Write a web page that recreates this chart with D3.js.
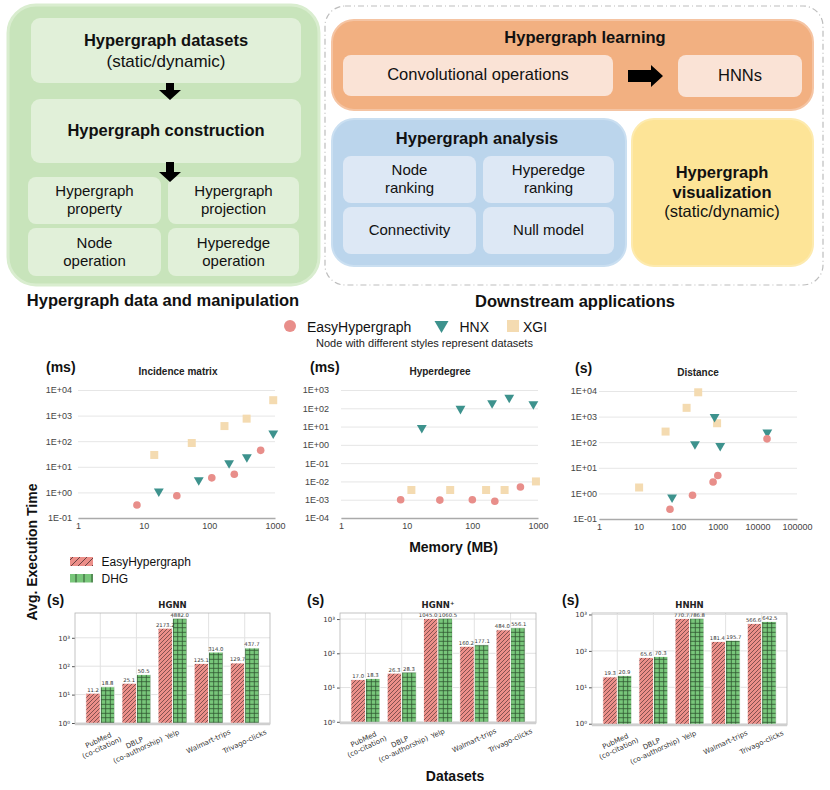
<!DOCTYPE html>
<html>
<head>
<meta charset="utf-8">
<script src="https://cdn.jsdelivr.net/npm/d3@7"></script>
<style>body{margin:0;background:#fff}</style>
</head>
<body>
<script>
// DATA
// scatter points: [memory (MB), execution time]
const incidenceEasy = [[7.9, 0.32], [32, 0.74], [109, 3.7], [240, 5.1], [605, 44]];
const incidenceHnx = [[17, 1.1], [69, 3.0], [200, 14], [373, 24], [940, 204]];
const incidenceXgi = [[14.5, 29], [54, 85], [170, 390], [370, 760], [940, 4000]];
const hyperdegreeEasy = [[8.1, 0.001], [32, 0.00095], [100, 0.001], [220, 0.00082], [540, 0.005]];
const hyperdegreeHnx = [[17, 8.5], [66, 95], [200, 195], [365, 380], [850, 170]];
const hyperdegreeXgi = [[11.8, 0.0034], [46, 0.0034], [162, 0.0034], [310, 0.0034], [930, 0.01]];
const distanceEasy = [[62, 0.24], [230, 0.85], [760, 2.8], [1000, 5], [17500, 135]];
const distanceHnx = [[70, 0.7], [265, 85], [830, 980], [1150, 72], [17800, 240]];
const distanceXgi = [[10.3, 1.7], [48, 260], [163, 2200], [320, 8900], [960, 550]];

const barDatasets = [['PubMed', '(co-citation)'], ['DBLP', '(co-authorship)'], ['Yelp'], ['Walmart-trips'], ['Trivago-clicks']];
const hgnnEasy = [11.2, 25.1, 2173.2, 125.1, 129.7];
const hgnnDhg = [18.8, 50.5, 4882.0, 314.0, 437.7];
const hgnnPlusEasy = [17.0, 26.3, 1045.0, 160.2, 484.0];
const hgnnPlusDhg = [18.3, 28.3, 1060.5, 177.1, 556.1];
const hnhnEasy = [19.3, 65.6, 770.7, 181.4, 566.6];
const hnhnDhg = [20.9, 70.3, 786.8, 195.7, 642.5];

// CONFIGURATION
const W = 830, H = 790;
const FONT = "Helvetica, 'Liberation Sans', Arial, sans-serif";
const MPL = "'DejaVu Sans', sans-serif";
const colorEasy = '#e88e8a', colorHnx = '#3d928d', colorXgi = '#f4dbb1';

const svg = d3.select('body').append('svg')
	.attr('width', W)
	.attr('height', H)
	.style('font-family', FONT);
svg.append('rect').attr('width', W).attr('height', H).attr('fill', '#fff');

// PATTERNS
const defs = svg.append('defs');
function hatch(id, size, fill, d, stroke, sw) {
	const p = defs.append('pattern').attr('id', id)
		.attr('patternUnits', 'userSpaceOnUse')
		.attr('width', size).attr('height', size);
	p.append('rect').attr('width', size).attr('height', size).attr('fill', fill);
	p.append('path').attr('d', d).attr('stroke', stroke).attr('stroke-width', sw).attr('fill', 'none');
}
hatch('hatchRed', 4, '#ec8f89', 'M-1,1 L1,-1 M0,4 L4,0 M3,5 L5,3', '#6a4242', 0.8);
hatch('hatchGreen', 4.5, '#78c67a', 'M2.25,0 V4.5 M0,2.25 H4.5', '#2f5530', 0.8);
hatch('legRed', 7, '#ec8f89', 'M-1,1 L1,-1 M0,7 L7,0 M6,8 L8,6', '#6a4242', 1);
hatch('legGreen', 8, '#78c67a', 'M4,0 V8', '#2f5530', 1);

// TOP DIAGRAM
function roundBox(x, y, w, h, r, fill, stroke, sw, dash) {
	return svg.append('rect')
		.attr('x', x).attr('y', y).attr('width', w).attr('height', h)
		.attr('rx', r).attr('ry', r)
		.attr('fill', fill)
		.attr('stroke', stroke || 'none')
		.attr('stroke-width', sw || 0)
		.attr('stroke-dasharray', dash || null);
}
function label(x, y, lines, size, weight, lh) {
	const t = svg.append('text')
		.attr('x', x).attr('y', y)
		.attr('text-anchor', 'middle')
		.attr('font-size', size)
		.attr('font-weight', weight || 'normal')
		.attr('fill', '#111');
	lines.forEach(function(l, i) {
		t.append('tspan').attr('x', x).attr('dy', i ? lh : 0).text(l);
	});
	return t;
}
function arrowDown(cx, y0, y1) {
	svg.append('path')
		.attr('d', `M${cx - 4},${y0} L${cx + 4},${y0} L${cx + 4},${y1 - 10} L${cx + 11},${y1 - 10} L${cx},${y1} L${cx - 11},${y1 - 10} L${cx - 4},${y1 - 10} Z`)
		.attr('fill', '#000');
}
function arrowRight(x0, x1, cy) {
	svg.append('path')
		.attr('d', `M${x0},${cy - 6} L${x1 - 12},${cy - 6} L${x1 - 12},${cy - 11} L${x1},${cy} L${x1 - 12},${cy + 11} L${x1 - 12},${cy + 6} L${x0},${cy + 6} Z`)
		.attr('fill', '#000');
}

// left block
roundBox(8, 5, 311, 280, 28, '#c8e4bb', '#d9edcf', 3);
roundBox(31, 18, 270, 65, 9, '#e1f0d9');
roundBox(31, 99, 270, 64, 9, '#e1f0d9');
roundBox(28, 177, 133, 47, 8, '#e1f0d9');
roundBox(168, 177, 131, 47, 8, '#e1f0d9');
roundBox(28, 228, 133, 48, 8, '#e1f0d9');
roundBox(168, 228, 131, 48, 8, '#e1f0d9');
label(166, 46, ['Hypergraph datasets'], 16.5, 'bold');
label(166, 67, ['(static/dynamic)'], 17);
label(166, 136, ['Hypergraph construction'], 16.5, 'bold');
label(94.5, 196, ['Hypergraph', 'property'], 15, 'normal', 17.5);
label(233.5, 196, ['Hypergraph', 'projection'], 15, 'normal', 17.5);
label(94.5, 248, ['Node', 'operation'], 15, 'normal', 17.5);
label(233.5, 248, ['Hyperedge', 'operation'], 15, 'normal', 17.5);
arrowDown(170, 83, 100);
arrowDown(170, 162, 182);
label(163, 306, ['Hypergraph data and manipulation'], 16.5, 'bold');

// right block
roundBox(325, 6, 498, 279, 20, 'none', '#bdbdbd', 1.2, '6,3,1,3');
roundBox(332, 20, 481, 90, 22, '#f2b081', '#f5c4a3', 2);
label(585, 43, ['Hypergraph learning'], 16.5, 'bold');
roundBox(343, 55, 270, 41, 8, '#fae3d6');
label(478, 80, ['Convolutional operations'], 16.5);
arrowRight(628, 663, 76);
roundBox(678, 55, 124, 42, 8, '#fae3d6');
label(740, 81, ['HNNs'], 16.5);

roundBox(332, 119, 294, 147, 22, '#bbd5ec', '#cadff1', 2);
label(477, 144, ['Hypergraph analysis'], 16.5, 'bold');
roundBox(343, 156, 133, 47, 8, '#dde8f5');
roundBox(483, 156, 131, 47, 8, '#dde8f5');
roundBox(343, 207, 133, 47, 8, '#dde8f5');
roundBox(483, 207, 131, 47, 8, '#dde8f5');
label(409.5, 175, ['Node', 'ranking'], 15, 'normal', 18.3);
label(548.5, 175, ['Hyperedge', 'ranking'], 15, 'normal', 18.3);
label(409.5, 235, ['Connectivity'], 15);
label(548.5, 235, ['Null model'], 15);

roundBox(632, 119, 181, 147, 22, '#fde497', '#fdeaae', 2);
label(722, 178, ['Hypergraph', 'visualization'], 16.5, 'bold', 20);
label(722, 217, ['(static/dynamic)'], 16.5);
label(575, 307, ['Downstream applications'], 16.5, 'bold');

// SCATTER LEGEND
svg.append('circle').attr('cx', 290).attr('cy', 326).attr('r', 6).attr('fill', colorEasy);
svg.append('text').attr('x', 307).attr('y', 332).attr('font-size', 14).attr('fill', '#111').text('EasyHypergraph');
svg.append('path').attr('d', 'M434.5,321 L448.5,321 L441.5,333 Z').attr('fill', colorHnx);
svg.append('text').attr('x', 459.5).attr('y', 332).attr('font-size', 14).attr('fill', '#111').text('HNX');
svg.append('rect').attr('x', 507).attr('y', 320).attr('width', 12).attr('height', 12).attr('fill', colorXgi);
svg.append('text').attr('x', 523).attr('y', 332).attr('font-size', 14).attr('fill', '#111').text('XGI');
svg.append('text').attr('x', 424.5).attr('y', 347).attr('text-anchor', 'middle')
	.attr('font-size', 11).attr('fill', '#222').text('Node with different styles represent datasets');

// SCATTER PANELS
function sci(d) {
	const e = Math.round(Math.log10(d));
	return '1E' + (e < 0 ? '-' : '+') + String(Math.abs(e)).padStart(2, '0');
}
function scatterPanel(p) {
	const x = d3.scaleLog().domain([1, p.xMax]).range([p.left, p.right]);
	const y = d3.scaleLog().domain(p.yDomain).range([p.bottom, p.top]);
	const yTicks = d3.range(Math.round(Math.log10(p.yDomain[0])), Math.round(Math.log10(p.yDomain[1])) + 1)
		.map(function(e) { return Math.pow(10, e); });
	const xTicks = d3.range(0, Math.round(Math.log10(p.xMax)) + 1)
		.map(function(e) { return Math.pow(10, e); });

	const yAxis = svg.append('g')
		.attr('transform', `translate(${p.left},0)`)
		.call(d3.axisLeft(y).tickValues(yTicks).tickFormat(sci)
			.tickSize(-(p.right - p.left)).tickPadding(p.pad));
	yAxis.select('.domain').remove();
	yAxis.selectAll('line').attr('stroke', '#e6e6e6');
	yAxis.selectAll('text').attr('font-size', 9).attr('fill', '#444').attr('font-family', FONT);

	const xAxis = svg.append('g')
		.attr('transform', `translate(0,${p.bottom})`)
		.call(d3.axisBottom(x).tickValues(xTicks).tickFormat(d3.format('d')).tickSize(0).tickPadding(5));
	xAxis.select('.domain').attr('stroke', '#aaa').attr('stroke-width', 1.5);
	xAxis.selectAll('text').attr('font-size', 9).attr('fill', '#444').attr('font-family', FONT);

	svg.append('text').attr('x', p.titleX).attr('y', p.top - 15).attr('text-anchor', 'middle')
		.attr('font-size', 10).attr('font-weight', 'bold').attr('fill', '#222').text(p.title);
	svg.append('text').attr('x', p.unitX).attr('y', p.top - 18)
		.attr('font-size', 14).attr('font-weight', 'bold').attr('fill', '#111').text(p.unit);

	const g = svg.append('g');
	g.selectAll('rect.xgi').data(p.xgi).enter().append('rect')
		.attr('class', 'xgi')
		.attr('x', function(d) { return x(d[0]) - 4; })
		.attr('y', function(d) { return y(d[1]) - 4; })
		.attr('width', 8).attr('height', 8)
		.attr('fill', colorXgi);
	g.selectAll('path.hnx').data(p.hnx).enter().append('path')
		.attr('class', 'hnx')
		.attr('d', d3.symbol().type(d3.symbolTriangle).size(42))
		.attr('transform', function(d) { return `translate(${x(d[0])},${y(d[1])}) rotate(180)`; })
		.attr('fill', colorHnx);
	g.selectAll('circle.easy').data(p.easy).enter().append('circle')
		.attr('class', 'easy')
		.attr('cx', function(d) { return x(d[0]); })
		.attr('cy', function(d) { return y(d[1]); })
		.attr('r', 3.8)
		.attr('fill', colorEasy);
}

scatterPanel({ left: 78, right: 275, top: 390, bottom: 518, xMax: 1000, yDomain: [0.1, 1e4],
	pad: 6, title: 'Incidence matrix', titleX: 178, unit: '(ms)', unitX: 46,
	easy: incidenceEasy, hnx: incidenceHnx, xgi: incidenceXgi });
scatterPanel({ left: 341, right: 538, top: 390, bottom: 518, xMax: 1000, yDomain: [1e-4, 1e3],
	pad: 12, title: 'Hyperdegree', titleX: 440, unit: '(ms)', unitX: 310,
	easy: hyperdegreeEasy, hnx: hyperdegreeHnx, xgi: hyperdegreeXgi });
scatterPanel({ left: 599, right: 797, top: 391, bottom: 519, xMax: 1e5, yDomain: [0.1, 1e4],
	pad: 2, title: 'Distance', titleX: 698, unit: '(s)', unitX: 575,
	easy: distanceEasy, hnx: distanceHnx, xgi: distanceXgi });

// AXIS LABELS
svg.append('text').attr('transform', 'translate(37,552) rotate(-90)').attr('text-anchor', 'middle')
	.attr('font-size', 14).attr('font-weight', 'bold').attr('fill', '#111').text('Avg. Execution Time');
svg.append('text').attr('x', 453.5).attr('y', 552).attr('text-anchor', 'middle')
	.attr('font-size', 14).attr('font-weight', 'bold').attr('fill', '#111').text('Memory (MB)');
svg.append('text').attr('x', 455).attr('y', 781).attr('text-anchor', 'middle')
	.attr('font-size', 14).attr('font-weight', 'bold').attr('fill', '#111').text('Datasets');

// BAR LEGEND
svg.append('rect').attr('x', 70).attr('y', 557).attr('width', 23).attr('height', 9).attr('fill', 'url(#legRed)');
svg.append('text').attr('x', 101.5).attr('y', 565.5).attr('font-size', 12).attr('fill', '#111').text('EasyHypergraph');
svg.append('rect').attr('x', 70).attr('y', 574).attr('width', 23).attr('height', 8.5).attr('fill', 'url(#legGreen)');
svg.append('text').attr('x', 101.5).attr('y', 582.5).attr('font-size', 12).attr('fill', '#111').text('DHG');

// BAR PANELS
const sup = ['\u2070', '\u00b9', '\u00b2', '\u00b3', '\u2074'];
function barPanel(p) {
	const maxV = d3.max(p.easy.concat(p.dhg));
	const x = d3.scaleLinear().domain([-0.7, barDatasets.length - 0.3]).range([p.left, p.right]);
	const y = d3.scaleLog().domain([Math.pow(10, -0.035), Math.pow(10, 1.05 * Math.log10(maxV))]).range([p.bottom, p.top]);
	const yTicks = [1, 10, 100, 1000];
	const g = svg.append('g').style('font-family', MPL);

	// grid
	g.selectAll('line.hgrid').data(yTicks).enter().append('line')
		.attr('x1', p.left).attr('x2', p.right)
		.attr('y1', function(d) { return y(d); }).attr('y2', function(d) { return y(d); })
		.attr('stroke', '#e2e2e2');
	g.selectAll('line.vgrid').data(barDatasets).enter().append('line')
		.attr('x1', function(d, i) { return x(i); }).attr('x2', function(d, i) { return x(i); })
		.attr('y1', p.top).attr('y2', p.bottom)
		.attr('stroke', '#e2e2e2');

	// y axis
	const yAxis = g.append('g')
		.attr('transform', `translate(${p.left},0)`)
		.call(d3.axisLeft(y).tickValues(yTicks)
			.tickFormat(function(d) { return '10' + sup[Math.round(Math.log10(d))]; })
			.tickSize(3).tickPadding(2));
	yAxis.select('.domain').remove();
	yAxis.selectAll('line').attr('stroke', '#555');
	yAxis.selectAll('text').attr('font-size', 7).attr('fill', '#333').attr('font-family', MPL);

	// bars
	const bw = 0.4;
	const series = [[p.easy, 'url(#hatchRed)', -bw], [p.dhg, 'url(#hatchGreen)', 0]];
	series.forEach(function(s) {
		g.selectAll(null).data(s[0]).enter().append('rect')
			.attr('x', function(d, i) { return x(i + s[2]); })
			.attr('y', function(d) { return y(d); })
			.attr('width', x(bw) - x(0))
			.attr('height', function(d) { return p.bottom - y(d); })
			.attr('fill', s[1])
			.attr('stroke', '#fff')
			.attr('stroke-width', 0.8);
	});
	// value labels drawn after all bars so none get covered
	const valueLabels = series.map(function(s) {
		return g.selectAll(null).data(s[0]).enter().append('text')
			.attr('x', function(d, i) { return x(i + s[2] + bw / 2); })
			.attr('y', function(d) { return y(d) - 1.5; })
			.attr('text-anchor', 'middle')
			.attr('font-size', 5.3)
			.attr('fill', '#333')
			.text(function(d) { return d.toFixed(1); });
	});
	// nudge side-by-side value labels apart where they would collide
	const redNodes = valueLabels[0].nodes(), greenNodes = valueLabels[1].nodes();
	redNodes.forEach(function(rn, i) {
		const gn = greenNodes[i];
		const rb = rn.getBBox(), gb = gn.getBBox();
		const vOverlap = rb.y < gb.y + gb.height && gb.y < rb.y + rb.height;
		const over = rb.x + rb.width - gb.x + 0.6;
		if (vOverlap && over > 0) {
			rn.setAttribute('x', +rn.getAttribute('x') - over / 2);
			gn.setAttribute('x', +gn.getAttribute('x') + over / 2);
		}
	});

	// frame
	g.append('rect').attr('x', p.left).attr('y', p.top)
		.attr('width', p.right - p.left).attr('height', p.bottom - p.top)
		.attr('fill', 'none').attr('stroke', '#b5b5b5').attr('stroke-width', 0.8);
	g.append('line').attr('x1', p.left).attr('x2', p.right).attr('y1', p.bottom).attr('y2', p.bottom)
		.attr('stroke', '#cfcfcf').attr('stroke-width', 2.5);

	// x labels, rotated
	const a = 25 * Math.PI / 180;
	barDatasets.forEach(function(lines, i) {
		const lg = g.append('g');
		const t = lg.append('text').attr('text-anchor', 'middle').attr('font-size', 7).attr('fill', '#333');
		lines.forEach(function(l, j) {
			t.append('tspan').attr('x', 0).attr('dy', j ? '1.15em' : 0).text(l);
		});
		const bb = t.node().getBBox();
		t.attr('transform', `translate(0,${-(bb.y + bb.height / 2)})`);
		const half = (bb.width * Math.sin(a) + bb.height * Math.cos(a)) / 2;
		lg.attr('transform', `translate(${x(i)},${p.bottom + 4 + half}) rotate(-25)`);
	});

	// titles
	g.append('text').attr('x', p.titleX).attr('y', p.top - 5).attr('text-anchor', 'middle')
		.attr('font-size', 8.5).attr('font-weight', 'bold').attr('fill', '#222').text(p.title);
	svg.append('text').attr('x', p.unitX).attr('y', p.top - 8)
		.attr('font-size', 14).attr('font-weight', 'bold').attr('fill', '#111').text('(s)');
}

barPanel({ left: 75, right: 270, top: 613, bottom: 724, title: 'HGNN', titleX: 172.5, unitX: 47,
	easy: hgnnEasy, dhg: hgnnDhg });
barPanel({ left: 340, right: 536, top: 613, bottom: 723, title: 'HGNN\u207a', titleX: 438, unitX: 307,
	easy: hgnnPlusEasy, dhg: hgnnPlusDhg });
barPanel({ left: 592, right: 787, top: 613, bottom: 725, title: 'HNHN', titleX: 689.5, unitX: 562,
	easy: hnhnEasy, dhg: hnhnDhg });
</script>
</body>
</html>
